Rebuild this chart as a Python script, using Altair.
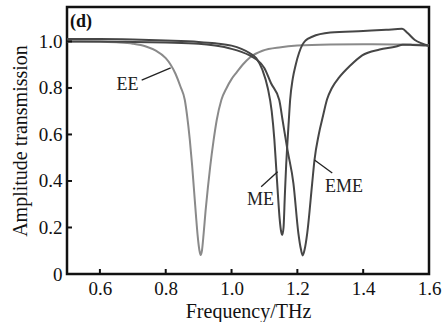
import altair as alt
import pandas as pd

# ---- data ----
ee_x = [0.50, 0.60, 0.65, 0.70, 0.74, 0.77, 0.80, 0.815, 0.83, 0.845, 0.858, 0.865,
        0.873, 0.880, 0.886, 0.892, 0.897, 0.902, 0.906, 0.910, 0.915, 0.921, 0.928,
        0.935, 0.945, 0.955, 0.969, 0.985, 1.000, 1.015, 1.035, 1.055, 1.094, 1.15,
        1.20, 1.30, 1.40, 1.50, 1.60]
ee_y = [1.000, 0.999, 0.996, 0.990, 0.978, 0.960, 0.928, 0.900, 0.860, 0.805, 0.748, 0.680,
        0.580, 0.470, 0.360, 0.250, 0.165, 0.105, 0.082, 0.100, 0.170, 0.270, 0.370,
        0.460, 0.570, 0.662, 0.748, 0.800, 0.838, 0.866, 0.902, 0.930, 0.960, 0.975,
        0.982, 0.987, 0.988, 0.987, 0.985]

me_x = [0.50, 0.60, 0.70, 0.80, 0.90, 0.95, 1.00, 1.03, 1.055, 1.075, 1.094, 1.11,
        1.122, 1.130, 1.136, 1.141, 1.146, 1.151, 1.154, 1.158, 1.162, 1.166, 1.170,
        1.174, 1.178, 1.186, 1.195, 1.205, 1.215, 1.225, 1.245, 1.30, 1.40, 1.47,
        1.518, 1.535, 1.557, 1.58, 1.60]
me_y = [1.010, 1.010, 1.008, 1.004, 0.998, 0.992, 0.982, 0.968, 0.950, 0.928, 0.877, 0.800,
        0.700, 0.580, 0.450, 0.340, 0.240, 0.180, 0.168, 0.200, 0.340, 0.470, 0.570,
        0.660, 0.748, 0.840, 0.900, 0.950, 0.985, 1.004, 1.020, 1.038, 1.045, 1.050,
        1.054, 1.036, 1.006, 0.990, 0.980]

eme_x = [0.50, 0.60, 0.70, 0.80, 0.90, 0.95, 1.00, 1.03, 1.055, 1.076, 1.10, 1.12,
         1.145, 1.155, 1.170, 1.188, 1.203, 1.211, 1.216, 1.222, 1.230, 1.245, 1.252,
         1.265, 1.278, 1.290, 1.305, 1.327, 1.36, 1.397, 1.45, 1.50, 1.52, 1.55, 1.60]
eme_y = [1.000, 1.000, 0.998, 0.995, 0.990, 0.982, 0.968, 0.955, 0.940, 0.922, 0.885, 0.820,
         0.748, 0.662, 0.533, 0.390, 0.176, 0.105, 0.080, 0.105, 0.176, 0.390, 0.490,
         0.600, 0.680, 0.750, 0.800, 0.845, 0.895, 0.940, 0.965, 0.978, 0.986, 0.985, 0.982]

curve_names = ["EE", "ME", "EME"]
curve_colors = ["#8a8a8a", "#464646", "#464646"]

label_text = ["EE", "ME", "EME"]
label_x = [0.684, 1.088, 1.342]
label_y = [0.813, 0.318, 0.375]

panel_text = ["(d)"]
panel_x = [0.509]
panel_y = [1.083]

ptr_x1 = [0.727, 1.090, 1.306]
ptr_y1 = [0.834, 0.375, 0.434]
ptr_x2 = [0.815, 1.140, 1.252]
ptr_y2 = [0.886, 0.440, 0.490]

x_ticks = [0.6, 0.8, 1.0, 1.2, 1.4, 1.6]
y_ticks = [0, 0.2, 0.4, 0.6, 0.8, 1.0]

X_MIN, X_MAX = 0.5, 1.6
Y_MIN, Y_MAX = 0.0, 1.148

# ---- tables ----
rows = []
for name, xs_, ys_ in [("EE", ee_x, ee_y), ("ME", me_x, me_y), ("EME", eme_x, eme_y)]:
    for i, (a, b) in enumerate(zip(xs_, ys_)):
        rows.append({"curve": name, "f": a, "t": b, "i": i})
df = pd.DataFrame(rows)
labels = pd.DataFrame({"text": label_text, "x": label_x, "y": label_y})
panel = pd.DataFrame({"text": panel_text, "x": panel_x, "y": panel_y})
ptrs = pd.DataFrame({"x": ptr_x1, "y": ptr_y1, "x2": ptr_x2, "y2": ptr_y2})

W, H = 362, 267
TICK_PX = 5
tx_len = TICK_PX * (Y_MAX - Y_MIN) / H   # inward x-tick length in data units
ty_len = TICK_PX * (X_MAX - X_MIN) / W   # inward y-tick length in data units
xt = pd.DataFrame({"x": x_ticks[:-1], "y": [Y_MIN] * 5, "y2": [Y_MIN + tx_len] * 5})
yt = pd.DataFrame({"y": y_ticks[1:], "x": [X_MIN] * 5, "x2": [X_MIN + ty_len] * 5})

FONT = "Times New Roman"
xs = alt.Scale(domain=[X_MIN, X_MAX], nice=False, zero=False)
ys = alt.Scale(domain=[Y_MIN, Y_MAX], nice=False, zero=False)

lines = alt.Chart(df).mark_line(strokeWidth=2, interpolate="monotone", clip=True).encode(
    x=alt.X("f:Q", scale=xs, axis=alt.Axis(
        values=x_ticks, format=".1f", title="Frequency/THz",
        labelPadding=5, titlePadding=3)),
    y=alt.Y("t:Q", scale=ys, axis=alt.Axis(
        values=y_ticks, labelExpr="datum.value == 0 ? '0' : format(datum.value, '.1f')",
        title="Amplitude transmission", labelPadding=5, titlePadding=8)),
    color=alt.Color("curve:N", scale=alt.Scale(domain=curve_names, range=curve_colors), legend=None),
    order="i:Q",
)

xtick_layer = alt.Chart(xt).mark_rule(color="#111", strokeWidth=2).encode(
    x=alt.X("x:Q", scale=xs), y=alt.Y("y:Q", scale=ys), y2="y2:Q",
)
ytick_layer = alt.Chart(yt).mark_rule(color="#111", strokeWidth=2).encode(
    y=alt.Y("y:Q", scale=ys), x=alt.X("x:Q", scale=xs), x2="x2:Q",
)

pointers = alt.Chart(ptrs).mark_rule(color="#222", strokeWidth=1.3).encode(
    x=alt.X("x:Q", scale=xs), y=alt.Y("y:Q", scale=ys),
    x2="x2:Q", y2="y2:Q",
)

texts = alt.Chart(labels).mark_text(fontSize=18, color="#222", baseline="middle",
                                    align="center").encode(
    x=alt.X("x:Q", scale=xs), y=alt.Y("y:Q", scale=ys),
    text="text:N",
)

panel_lbl = alt.Chart(panel).mark_text(fontSize=18, color="#111", baseline="middle",
                                       align="left", fontWeight="bold").encode(
    x=alt.X("x:Q", scale=xs), y=alt.Y("y:Q", scale=ys),
    text="text:N",
)

chart = alt.layer(lines, xtick_layer, ytick_layer, pointers, texts, panel_lbl).properties(
    width=W, height=H,
    autosize=alt.AutoSizeParams(type="none"),
    padding={"left": 67, "top": 7, "right": 18, "bottom": 48},
).configure(font=FONT).configure_axis(
    grid=False, domain=False, ticks=False, labelFont=FONT, titleFont=FONT,
    labelFontSize=19, titleFontSize=20, titleFontWeight="normal",
    labelColor="#111", titleColor="#111", labelFlush=False,
).configure_text(font=FONT).configure_view(stroke="#111", strokeWidth=2.5)

chart.save("out.html", embed_options={"renderer": "svg", "actions": False})
